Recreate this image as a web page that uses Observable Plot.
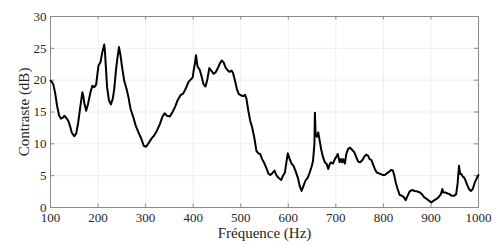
<!DOCTYPE html>
<html>
<head>
<meta charset="utf-8">
<script src="https://cdn.jsdelivr.net/npm/d3@7"></script>
<script src="https://cdn.jsdelivr.net/npm/@observablehq/plot@0.6"></script>
<style>
  html, body { margin: 0; padding: 0; background: #fff; }
  #chart svg { display: block; }
  #chart svg text { font-family: "Liberation Serif", "Times New Roman", serif; }
</style>
</head>
<body>
<div id="chart"></div>
<script>
const freq = [100,103,106,110,114,118,122,126,129,133,137,141,145,150,154,158,163,167,169,171,175,179,184,188,192,196,199,201,205,209,213,214.5,216,219,223,227,231,234,238,241,244,247,251,255,260,264,268,274,279,285,291,296,301,307,313,318,324,330,335,340,345,351,356,362,367,373,379,384,390,396,399,401,404,406,409,414,418,422,426,430,434,439,443,447,452,456,460,464,468,472,476,481,484,488,492,496,501,505,509,512,516,520,524,529,533,537,541,545,550,554,558,562,566,571,575,579,585,589,593,596,599,603,607,611,615,620,624,628,632,636,641,645,649,652,655,656,657.5,660,663,666,669,673,677,681,684,687,690,694,698,702,704,706.5,708,711,713.5,715.5,719,722,726,730,735,739,743,747,751,756,760,764,768,771,775,778,782,786,791,795,799,803,807,812,816,820,823,826,830,834,838,842,847,851,855,860,866,872,877,882,886,892,896,901,905,911,917,921,924,926,931,935,939,943,949,953,956,959,961.5,964,967,970,973,976,980,984,988,992,997,1000];
const contrast = [19.9,19.7,19.3,17.9,15.9,14.5,13.95,14.1,14.4,14.1,13.7,12.8,11.7,11.2,11.6,13.2,16.0,18.1,17.5,16.4,15.2,16.3,18.1,19.1,18.9,19.3,21.2,22.3,22.8,24.4,25.6,24.5,22.6,18.9,16.8,16.2,17.1,18.6,21.8,23.6,25.2,24.0,21.8,19.9,18.6,17.3,15.6,14.2,12.9,11.8,10.8,9.7,9.55,10.2,10.9,11.3,12.1,13.1,14.2,14.8,14.4,14.3,14.9,15.8,16.8,17.6,17.9,18.6,19.7,20.2,20.4,21.5,22.8,23.9,22.2,21.6,20.5,19.3,19.0,20.2,21.9,21.4,21.0,21.2,21.9,22.6,23.1,22.8,22.0,21.6,21.3,21.5,21.1,19.9,18.6,17.8,17.6,17.5,17.7,17.1,15.2,13.6,12.6,10.8,8.9,8.5,8.4,7.6,6.9,6.2,5.35,5.1,5.35,5.8,5.1,4.7,4.3,5.0,5.5,7.1,8.5,7.6,6.9,6.55,5.8,4.7,3.4,2.6,3.4,4.2,4.7,5.5,6.4,7.3,10.0,14.9,11.5,11.1,11.8,10.5,9.2,7.9,7.1,6.8,6.05,6.8,7.1,6.9,7.6,8.1,8.4,7.6,7.1,7.6,7.1,7.6,6.9,8.4,9.2,9.4,9.0,8.65,7.9,7.2,7.1,7.45,8.0,8.3,8.1,7.6,7.45,6.8,6.05,5.5,5.35,5.25,5.1,5.1,5.35,5.6,5.9,5.8,5.0,3.9,2.9,2.0,1.85,1.7,1.15,1.85,2.5,2.75,2.6,2.5,2.35,2.0,1.6,1.3,1.05,0.8,1.05,1.3,1.7,2.1,2.9,2.35,2.35,2.2,2.1,1.85,1.85,2.1,3.7,6.55,5.25,5.25,4.85,4.7,4.2,3.6,2.9,2.6,2.9,3.9,4.7,5.1];
const xTicks = [100,200,300,400,500,600,700,800,900,1000];
const yTicks = [0,5,10,15,20,25,30];
const xLabel = "Fréquence (Hz)";
const yLabel = "Contraste (dB)";

const data = freq.map((f, i) => ({f, c: contrast[i]}));
const ink = "#262626";
const serif = "'Liberation Serif', 'Times New Roman', serif";
const tickLenY = 0.55;  // dB
const tickLenX = 9;     // Hz

const chart = Plot.plot({
  width: 496,
  height: 244,
  marginLeft: 50,
  marginRight: 18,
  marginTop: 16,
  marginBottom: 37,
  style: {fontFamily: serif, background: "#fff"},
  x: {domain: [100, 1000]},
  y: {domain: [0, 30]},
  marks: [
    Plot.gridX(xTicks, {stroke: "#e4e4e4", strokeOpacity: 1, strokeWidth: 0.6}),
    Plot.gridY(yTicks, {stroke: "#e4e4e4", strokeOpacity: 1, strokeWidth: 0.6}),
    Plot.ruleX(xTicks, {x: d => d, y1: 0, y2: tickLenY, stroke: "#8a8a8a"}),
    Plot.ruleX(xTicks, {x: d => d, y1: 30, y2: 30 - tickLenY, stroke: "#8a8a8a"}),
    Plot.ruleY(yTicks, {y: d => d, x1: 100, x2: 100 + tickLenX, stroke: "#8a8a8a"}),
    Plot.ruleY(yTicks, {y: d => d, x1: 1000, x2: 1000 - tickLenX, stroke: "#8a8a8a"}),
    Plot.frame({stroke: "#8a8a8a", strokeWidth: 1}),
    Plot.axisX(xTicks, {tickSize: 0, tickPadding: 5, fontSize: 13, fill: ink, label: null, tickFormat: d => String(d), fontFamily: serif, fontVariant: "normal"}),
    Plot.axisY(yTicks, {tickSize: 0, tickPadding: 4, fontSize: 13, fill: ink, label: null, tickFormat: d => String(d), fontFamily: serif, fontVariant: "normal"}),
    Plot.axisX([], {label: xLabel, labelAnchor: "center", labelArrow: "none", labelOffset: 30, fontSize: 15, fill: ink, fontFamily: serif}),
    Plot.axisY([], {label: yLabel, labelAnchor: "center", labelArrow: "none", labelOffset: 32, fontSize: 15, fill: ink, fontFamily: serif}),
    Plot.line(data, {x: "f", y: "c", stroke: "#000", strokeWidth: 2, strokeLinejoin: "round"})
  ]
});
document.getElementById("chart").appendChild(chart);
</script>
</body>
</html>
